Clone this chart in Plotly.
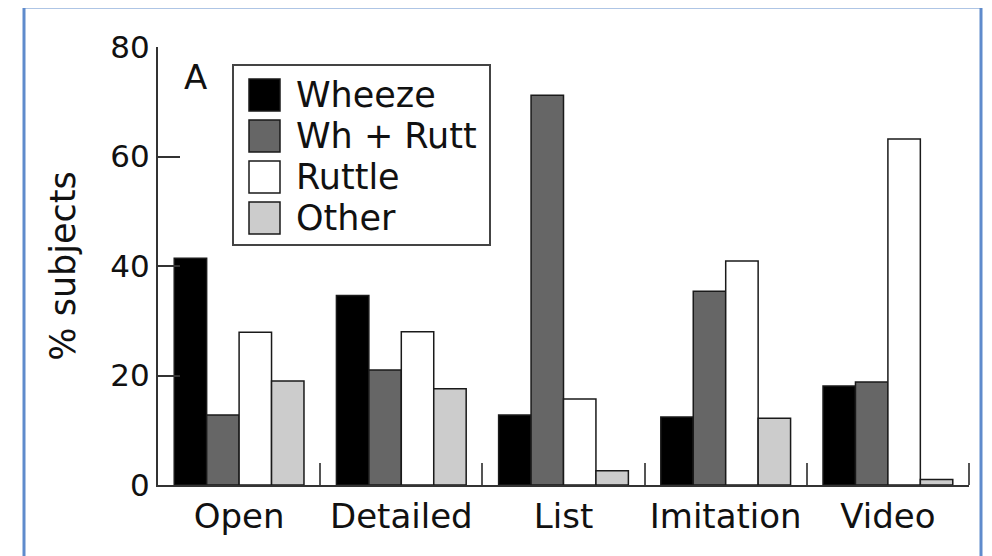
import plotly.graph_objects as go

categories = ["Open", "Detailed", "List", "Imitation", "Video"]
series_names = ["Wheeze", "Wh + Rutt", "Ruttle", "Other"]
wheeze = [41.4, 34.6, 12.8, 12.4, 18.1]
wh_rutt = [12.8, 21.0, 71.2, 35.4, 18.8]
ruttle = [27.9, 28.0, 15.7, 40.9, 63.2]
other = [19.0, 17.6, 2.6, 12.2, 1.0]
series_values = [wheeze, wh_rutt, ruttle, other]
colors = ["#000000", "#666666", "#ffffff", "#cccccc"]
y_ticks = [0, 20, 40, 60, 80]

FONT = "DejaVu Sans"
OFF = 8  # page body margin offset
SW, SH = 992, 556
PL, PR, PT, PB = 158, 969, 47, 485  # plot area in screen pixels
W, H = SW - OFF, SH - OFF
L, T = PL - OFF, PT - OFF
R, B = W - (PR - OFF), H - (PB - OFF)
PW, PH = PR - PL, PB - PT


def px(x):
    return (x - PL) / PW


def py(y):
    return (PB - y) / PH


fig = go.Figure()
for name, vals, col in zip(series_names, series_values, colors):
    fig.add_trace(go.Bar(
        x=categories, y=vals, name=name,
        marker=dict(color=col, line=dict(color="#1a1a1a", width=1.5)),
        showlegend=False,
    ))

shapes = []
annotations = []
# outer blue frame
shapes.append(dict(type="rect", xref="paper", yref="paper",
                   x0=px(24), x1=px(981), y0=py(575), y1=py(7),
                   line=dict(color="#5f8bcc", width=3), layer="below"))
# closing category tick at the right end of the x axis
shapes.append(dict(type="line", xref="paper", yref="paper",
                   x0=1, x1=1, y0=0, y1=py(463),
                   line=dict(color="#555555", width=2)))
# legend box
shapes.append(dict(type="rect", xref="paper", yref="paper",
                   x0=px(233), x1=px(490), y0=py(245), y1=py(65),
                   line=dict(color="#444444", width=2), fillcolor="white", layer="above"))
tops = [79, 120, 161, 202]
for i, (name, col) in enumerate(zip(series_names, colors)):
    t = tops[i]
    shapes.append(dict(type="rect", xref="paper", yref="paper",
                       x0=px(249), x1=px(280), y0=py(t + 32), y1=py(t),
                       line=dict(color="#1a1a1a", width=1.5), fillcolor=col, layer="above"))
    annotations.append(dict(xref="paper", yref="paper", x=px(294), y=py(t + 16),
                            text=name, showarrow=False, xanchor="left", yanchor="middle",
                            font=dict(family=FONT, size=35, color="#111111")))
annotations.append(dict(xref="paper", yref="paper", x=px(195), y=py(77),
                        text="A", showarrow=False, xanchor="center", yanchor="middle",
                        font=dict(family=FONT, size=34, color="#111111")))

fig.update_layout(
    width=W, height=H,
    margin=dict(l=L, r=R, t=T, b=B),
    paper_bgcolor="white", plot_bgcolor="white",
    barmode="group", bargap=0.2, bargroupgap=0,
    font=dict(family=FONT, color="#111111"),
    shapes=shapes, annotations=annotations,
)
fig.update_xaxes(
    showline=True, linecolor="#333333", linewidth=2,
    ticks="inside", tickson="boundaries", ticklen=22, tickwidth=2, tickcolor="#555555",
    tickfont=dict(family=FONT, size=34, color="#111111"),
    showgrid=False, zeroline=False, range=[-0.5, 4.5],
)
fig.update_yaxes(
    range=[0, 80], tickvals=y_ticks,
    showline=True, linecolor="#333333", linewidth=2,
    ticks="inside", ticklen=22, tickwidth=2, tickcolor="#333333",
    tickfont=dict(family=FONT, size=31, color="#111111"),
    showgrid=False, zeroline=False,
    title=dict(text="% subjects", font=dict(family=FONT, size=35, color="#111111"), standoff=24),
)

fig.write_html("out.html")
